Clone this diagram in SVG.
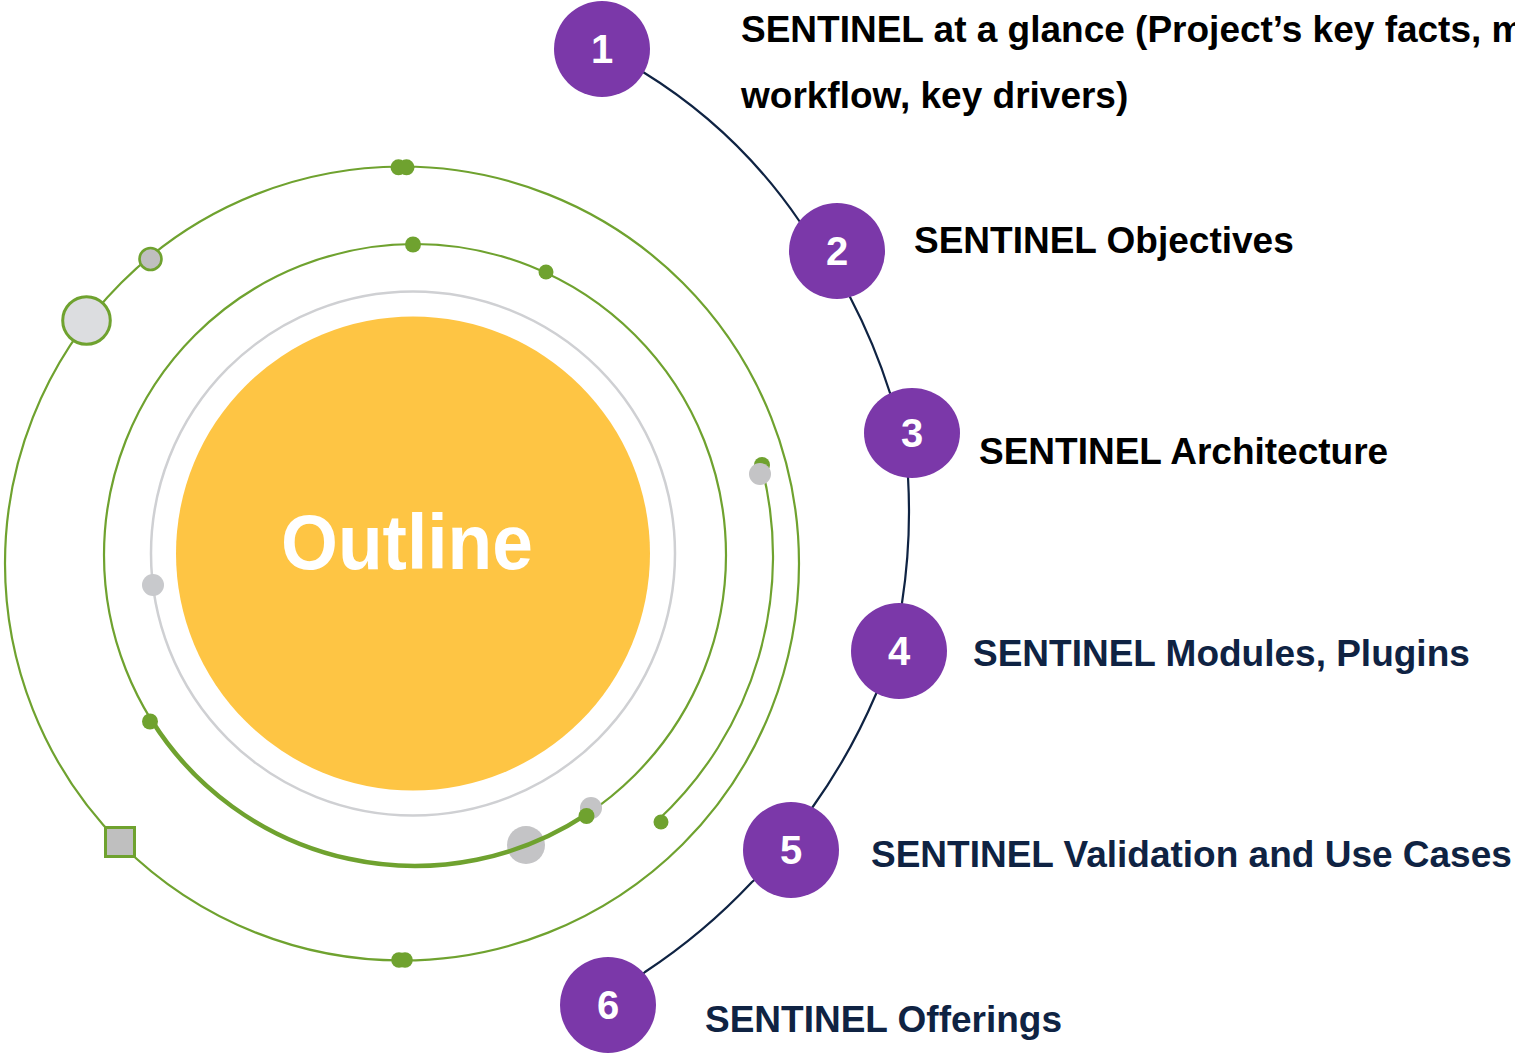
<svg xmlns="http://www.w3.org/2000/svg" width="1515" height="1053" viewBox="0 0 1515 1053">
<style>
.ring{fill:none;stroke:#6fa22f;stroke-width:2.2}
.gdot{fill:#6fa22f}
.num{fill:#7b38a9}
.numt{font-family:"Liberation Sans",Arial,sans-serif;font-weight:bold;font-size:40px;fill:#ffffff;text-anchor:middle}
.lbl{font-family:"Liberation Sans",Arial,sans-serif;font-weight:bold;font-size:37px}
.blk{fill:#000000}
.nav{fill:#0f2343}
</style>
<rect width="1515" height="1053" fill="#ffffff"/>
<g id="orbits">
  <circle cx="402" cy="563.5" r="397" class="ring"/>
  <circle cx="415" cy="555" r="311" class="ring"/>
  <circle cx="413" cy="553.5" r="262" fill="none" stroke="#cfd0d3" stroke-width="2.5"/>
  <path d="M761,464 A360,360 0 0 1 657,821" class="ring" stroke-width="2.6"/>
</g>
<g id="core">
  <circle cx="413" cy="553.5" r="237" fill="#fec544"/>
  <text x="407" y="569" font-family="'Liberation Sans',Arial,sans-serif" font-weight="bold" font-size="78" fill="#ffffff" text-anchor="middle" textLength="252" lengthAdjust="spacingAndGlyphs">Outline</text>
</g>
<g id="planets">
  <circle cx="526" cy="845" r="19" fill="#c4c4c6"/>
  <circle cx="591" cy="808" r="11" fill="#c4c4c6"/>
  <path d="M151.6,720.3 A311,311 0 0 0 585.7,814.9" fill="none" stroke="#6fa22f" stroke-width="4.5"/>
  <circle cx="150" cy="721.5" r="8" class="gdot"/>
  <circle cx="586.5" cy="816" r="8" class="gdot"/>
  <circle cx="413" cy="244.5" r="8" class="gdot"/>
  <circle cx="546" cy="272" r="7.5" class="gdot"/>
  <circle cx="762" cy="465" r="8" class="gdot"/>
  <circle cx="760" cy="474" r="11" fill="#c4c4c6"/>
  <circle cx="661" cy="822" r="7.5" class="gdot"/>
  <circle cx="153" cy="585" r="11" fill="#c8c9cc"/>
  <circle cx="398.5" cy="167.3" r="8" class="gdot"/>
  <circle cx="406.5" cy="167.3" r="8" class="gdot"/>
  <circle cx="399" cy="960" r="7.8" class="gdot"/>
  <circle cx="405" cy="960" r="7.8" class="gdot"/>
  <circle cx="150.5" cy="259" r="11" fill="#bfbfbf" stroke="#6fa22f" stroke-width="2.6"/>
  <circle cx="86.5" cy="320.5" r="23.8" fill="#dcdde0" stroke="#6fa22f" stroke-width="3"/>
  <rect x="105.5" y="827.5" width="29" height="29" fill="#bfbfbf" stroke="#6fa22f" stroke-width="3"/>
</g>
<g id="connectors">
  <path d="M602,49 L643,72 A520,520 0 0 1 800,222 L837,251 L850,297 A600,600 0 0 1 890,393 L912,433 L908,477 A600,600 0 0 1 902,603 L899,651 L876,694 A600,600 0 0 1 812,808 L791,850 L752,882 A600,600 0 0 1 645,972 L608,1005" fill="none" stroke="#0f2343" stroke-width="2.2" stroke-linejoin="round"/>
</g>
<g id="item1">
  <circle cx="602" cy="49" r="48" class="num"/>
  <text x="602" y="63" class="numt">1</text>
  <text x="741" y="42" class="lbl blk">SENTINEL at a glance (Project’s key facts, m</text>
  <text x="741" y="108" class="lbl blk">workflow, key drivers)</text>
</g>
<g id="item2">
  <circle cx="837" cy="251" r="48" class="num"/>
  <text x="837" y="265" class="numt">2</text>
  <text x="914" y="253" class="lbl blk">SENTINEL Objectives</text>
</g>
<g id="item3">
  <ellipse cx="912" cy="433" rx="48" ry="45" class="num"/>
  <text x="912" y="447" class="numt">3</text>
  <text x="979" y="464" class="lbl blk">SENTINEL Architecture</text>
</g>
<g id="item4">
  <circle cx="899" cy="651" r="48" class="num"/>
  <text x="899" y="665" class="numt">4</text>
  <text x="973" y="666" class="lbl nav">SENTINEL Modules, Plugins</text>
</g>
<g id="item5">
  <circle cx="791" cy="850" r="48" class="num"/>
  <text x="791" y="864" class="numt">5</text>
  <text x="871" y="867" class="lbl nav">SENTINEL Validation and Use Cases</text>
</g>
<g id="item6">
  <circle cx="608" cy="1005" r="48" class="num"/>
  <text x="608" y="1019" class="numt">6</text>
  <text x="705" y="1032" class="lbl nav">SENTINEL Offerings</text>
</g>
</svg>
